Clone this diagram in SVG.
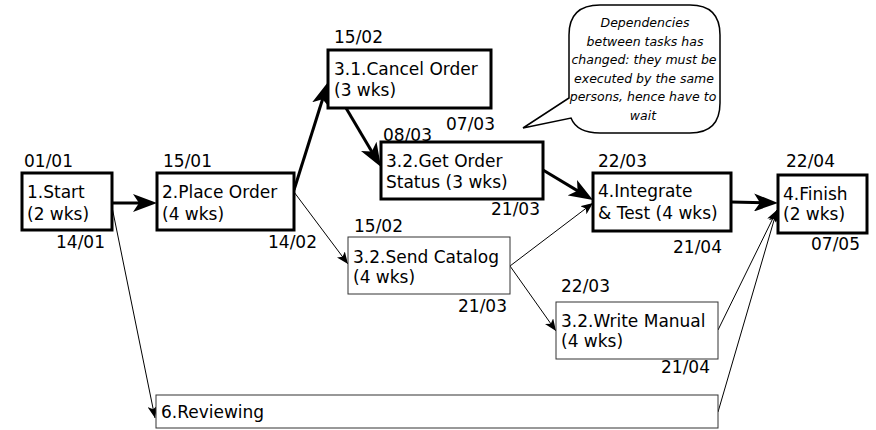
<svg xmlns="http://www.w3.org/2000/svg" width="876" height="430" viewBox="0 0 876 430">
<style>
.t{font-family:"DejaVu Sans",Verdana,sans-serif;font-size:17px;fill:#000}
.c{font-family:"DejaVu Sans",Verdana,sans-serif;font-size:12.5px;font-style:italic;fill:#000;text-anchor:middle}
.bx{fill:#fff;stroke:#000;stroke-width:3}
.bt{fill:#fff;stroke:#333;stroke-width:1}
.k{fill:none;stroke:#000;stroke-width:3}
.n{fill:none;stroke:#000;stroke-width:1}
</style>
<defs>
<marker id="ak" viewBox="0 0 24 18" refX="14" refY="9" markerWidth="24" markerHeight="18" markerUnits="userSpaceOnUse" orient="auto">
<path d="M0,0 L24,9 L0,18 L6,9 Z" fill="#000"/>
</marker>
<marker id="an" viewBox="0 0 12 10" refX="12" refY="5" markerWidth="12" markerHeight="10" markerUnits="userSpaceOnUse" orient="auto">
<path d="M0,0 L12,5 L0,10 L3,5 Z" fill="#000"/>
</marker>
</defs>

<g id="connectors">
<line class="k" x1="112" y1="203" x2="147" y2="203" marker-end="url(#ak)"/>
<line class="k" x1="294" y1="190" x2="325" y2="91.5" marker-end="url(#ak)"/>
<line class="k" x1="346" y1="108" x2="375.9" y2="158.4" marker-end="url(#ak)"/>
<line class="k" x1="543" y1="170" x2="584.4" y2="194.9" marker-end="url(#ak)"/>
<line class="k" x1="731" y1="202" x2="768" y2="202.8" marker-end="url(#ak)"/>
<line class="n" x1="294" y1="192" x2="348" y2="264" marker-end="url(#an)"/>
<line class="n" x1="510" y1="266" x2="593" y2="203" marker-end="url(#an)"/>
<line class="n" x1="510" y1="266" x2="556" y2="331" marker-end="url(#an)"/>
<line class="n" x1="112" y1="207" x2="155" y2="418" marker-end="url(#an)"/>
<line class="n" x1="718" y1="330" x2="777" y2="210" marker-end="url(#an)"/>
<line class="n" x1="718" y1="412" x2="777" y2="210" marker-end="url(#an)"/>
</g>

<g id="n1">
<rect class="bx" x="22" y="173" width="90" height="57"/>
<text class="t" x="27" y="198">1.Start</text>
<text class="t" x="27" y="220">(2 wks)</text>
<text class="t" x="24" y="167">01/01</text>
<text class="t" x="56" y="248">14/01</text>
</g>

<g id="n2">
<rect class="bx" x="157" y="173" width="137" height="57"/>
<text class="t" x="162" y="198">2.Place Order</text>
<text class="t" x="162" y="220">(4 wks)</text>
<text class="t" x="163" y="167">15/01</text>
<text class="t" x="268" y="248">14/02</text>
</g>

<g id="n31">
<rect class="bx" x="328" y="50" width="163" height="58"/>
<text class="t" x="334" y="75">3.1.Cancel Order</text>
<text class="t" x="334" y="96">(3 wks)</text>
<text class="t" x="334" y="43">15/02</text>
</g>

<g id="n32a">
<rect class="bx" x="381" y="142" width="162" height="57"/>
<text class="t" x="386" y="167">3.2.Get Order</text>
<text class="t" x="386" y="188">Status (3 wks)</text>
<text class="t" x="383" y="141">08/03</text>
<text class="t" x="446" y="130">07/03</text>
<text class="t" x="491" y="215">21/03</text>
</g>

<g id="n32b">
<rect class="bt" x="348" y="237" width="162" height="57"/>
<text class="t" x="353" y="263">3.2.Send Catalog</text>
<text class="t" x="353" y="283">(4 wks)</text>
<text class="t" x="354" y="232">15/02</text>
<text class="t" x="458" y="312">21/03</text>
</g>

<g id="n32c">
<rect class="bt" x="556" y="302" width="162" height="57"/>
<text class="t" x="561" y="327">3.2.Write Manual</text>
<text class="t" x="561" y="347">(4 wks)</text>
<text class="t" x="561" y="292">22/03</text>
<text class="t" x="661" y="373">21/04</text>
</g>

<g id="n4">
<rect class="bx" x="593" y="173" width="138" height="58"/>
<text class="t" x="598" y="197">4.Integrate</text>
<text class="t" x="598" y="219">&amp; Test (4 wks)</text>
<text class="t" x="598" y="167">22/03</text>
<text class="t" x="673" y="253">21/04</text>
</g>

<g id="n5">
<rect class="bx" x="778" y="175" width="89" height="58"/>
<text class="t" x="783" y="200">4.Finish</text>
<text class="t" x="783" y="220">(2 wks)</text>
<text class="t" x="786" y="167">22/04</text>
<text class="t" x="811" y="250">07/05</text>
</g>

<g id="n6">
<rect class="bt" x="156" y="395" width="562" height="33"/>
<text class="t" x="161" y="418">6.Reviewing</text>
</g>

<g id="callout">
<path d="M600,5 H690 Q720,5 720,35 V103 Q720,133 690,133 H600 Q577,133 571,118 L523,128 L569,98 V35 Q569,5 600,5 Z" fill="#fff" stroke="#000" stroke-width="1.5"/>
<text class="c" x="645" y="27">Dependencies</text>
<text class="c" x="645" y="45.5">between tasks has</text>
<text class="c" x="644" y="64">changed: they must be</text>
<text class="c" x="644" y="82.5">executed by the same</text>
<text class="c" x="643" y="101">persons, hence have to</text>
<text class="c" x="643" y="119.5">wait</text>
</g>
</svg>
